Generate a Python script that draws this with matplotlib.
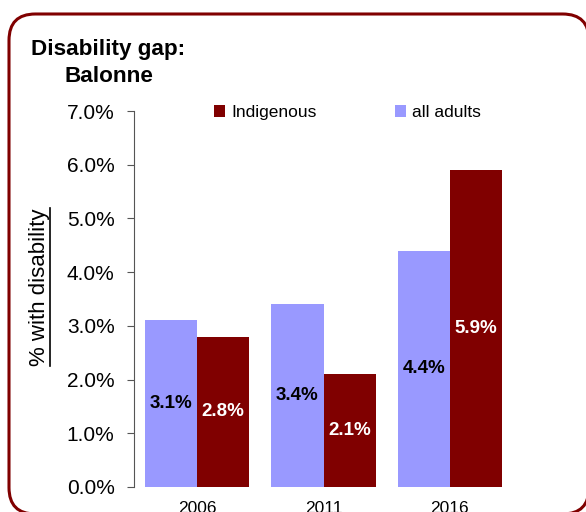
import numpy as np
import matplotlib.pyplot as plt
from matplotlib.patches import FancyBboxPatch
from matplotlib.lines import Line2D

plt.rcParams['font.family'] = ['Liberation Sans', 'DejaVu Sans']

years = ["2006", "2011", "2016"]
all_adults = [3.1, 3.4, 4.4]
indigenous = [2.8, 2.1, 5.9]
yticks = [0, 1, 2, 3, 4, 5, 6, 7]

purple = "#9999FF"
maroon = "#800000"

fig = plt.figure(figsize=(5.86, 5.12), dpi=100)
W, H = 586, 512

# rounded frame (runs off the right and bottom edges like the source)
frame = FancyBboxPatch((9 / W, -2 / H), 580 / W, 500 / H,
                       boxstyle="round,pad=0,rounding_size=0.045",
                       mutation_aspect=W / H,
                       transform=fig.transFigure, facecolor="white",
                       edgecolor=maroon, linewidth=2.2, zorder=-5)
fig.add_artist(frame)

ax = fig.add_axes([134 / W, 1 - 487 / H, 379 / W, 376 / H])
ax.set_facecolor("none")
x = np.arange(len(years))
w = 0.413
b1 = ax.bar(x - w / 2, all_adults, w, color=purple, label="all adults")
b2 = ax.bar(x + w / 2, indigenous, w, color=maroon, label="Indigenous")

for rect, v in zip(b1, all_adults):
    ax.text(rect.get_x() + rect.get_width() / 2, v / 2, f"{v:.1f}%",
            ha="center", va="center", fontsize=13.5, fontweight="bold", color="black")
for rect, v in zip(b2, indigenous):
    ax.text(rect.get_x() + rect.get_width() / 2, v / 2, f"{v:.1f}%",
            ha="center", va="center", fontsize=13.5, fontweight="bold", color="white")

ax.set_xlim(-0.5, 2.5)
ax.set_ylim(0, 7)
ax.set_yticks(yticks)
ax.set_yticklabels([f"{t:.1f}%" for t in yticks], fontsize=15)
ax.set_xticks(x)
ax.set_xticklabels(years, fontsize=12.5)
ax.tick_params(axis="x", length=0, pad=10)
ax.tick_params(axis="y", length=5, width=0.8, color="#555555", pad=9)
for s in ["top", "right", "bottom"]:
    ax.spines[s].set_visible(False)
ax.spines["left"].set_color("#555555")

leg = ax.legend(handles=[b2, b1], labels=["Indigenous", "all adults"],
                ncol=2, loc="center left", bbox_to_anchor=(0.212, 0.996),
                frameon=False, fontsize=12.5, borderpad=0, borderaxespad=0,
                handlelength=0.63, handleheight=0.63,
                handletextpad=0.35, columnspacing=4.5)

fig.text(31 / W, 1 - 49 / H, "Disability gap:", fontsize=16.2, fontweight="bold",
         va="center", ha="left")
fig.text(64 / W, 1 - 76 / H, "Balonne", fontsize=16.2, fontweight="bold",
         va="center", ha="left")

# underlined y label
ylab = fig.text(40 / W, 1 - 287 / H, "% with disability", fontsize=16,
                rotation=90, ha="center", va="center")
fig.canvas.draw()
bb = ylab.get_window_extent().transformed(fig.transFigure.inverted())
ux = bb.x1 - 1.0 / W
fig.add_artist(Line2D([ux, ux], [bb.y0, bb.y1], color="black", lw=1.2,
                      transform=fig.transFigure))

fig.savefig("out.png", dpi=100)
